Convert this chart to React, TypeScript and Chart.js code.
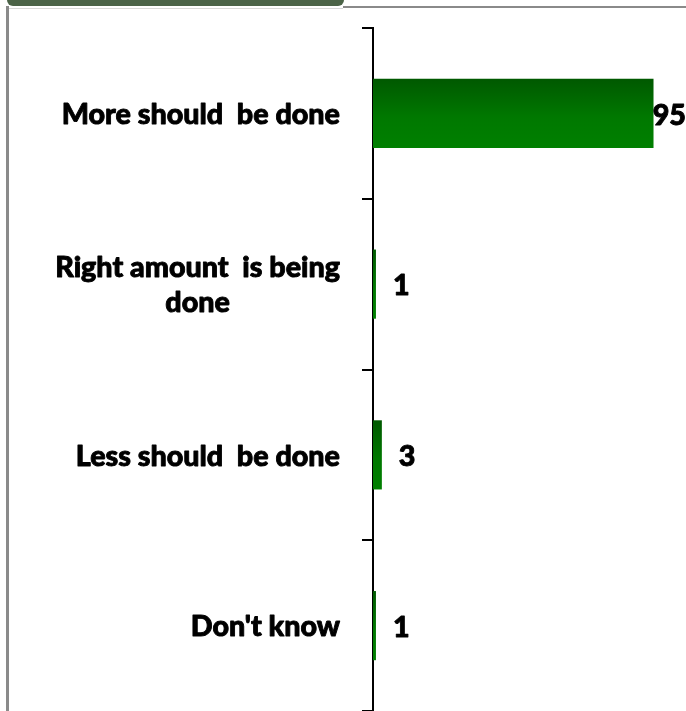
import React, { useEffect, useRef } from "react";
import { Chart, registerables } from "chart.js";

Chart.register(...registerables);

const categories: string[][] = [
  ["More should  be done"],
  ["Right amount  is being", "done"],
  ["Less should  be done"],
  ["Don't know"],
];
const values: number[] = [95, 1, 3, 1];
const xMax = 106;

const LABEL_FONT = "900 28.7px Lato, 'Liberation Sans', sans-serif";
const VALUE_FONT = "900 28.7px Lato, 'Liberation Sans', sans-serif";

const labelPlugin = {
  id: "customLabels",
  afterDraw(chart: any) {
    const ctx = chart.ctx;
    const yScale = chart.scales.y;
    const meta = chart.getDatasetMeta(0);
    ctx.save();
    ctx.fillStyle = "#000";
    ctx.strokeStyle = "#000";
    ctx.lineWidth = 0.9;
    ctx.lineJoin = "round";
    ctx.textBaseline = "middle";
    ctx.font = LABEL_FONT;
    const rightEdge = yScale.right - 33;
    const lineH = 35;
    categories.forEach((lines, i) => {
      const cy = yScale.getPixelForValue(i) + 1.5;
      const widths = lines.map((l) => ctx.measureText(l).width);
      const block = Math.max(...widths);
      const cx = rightEdge - block / 2;
      ctx.textAlign = "center";
      lines.forEach((l, j) => {
        const y = cy + (j - (lines.length - 1) / 2) * lineH;
        ctx.fillText(l, cx, y);
        ctx.strokeText(l, cx, y);
      });
    });
    ctx.font = VALUE_FONT;
    ctx.textAlign = "left";
    meta.data.forEach((bar: any, i: number) => {
      const txt = String(values[i]);
      const w = ctx.measureText(txt).width;
      let x = bar.x + 17;
      if (x + w > chart.width) x = chart.width - w;
      ctx.fillText(txt, x, bar.y + 2);
      ctx.strokeText(txt, x, bar.y + 2);
    });
    ctx.restore();
  },
};

export default function App() {
  const ref = useRef<HTMLCanvasElement | null>(null);
  useEffect(() => {
    document.body.style.margin = "0";
    const canvas = ref.current!;
    const chart = new Chart(canvas, {
      type: "bar",
      data: {
        labels: categories.map((c) => c.join(" ")),
        datasets: [
          {
            data: values,
            barPercentage: 0.405,
            categoryPercentage: 1,
            backgroundColor: (c: any) => {
              const ch = c.chart;
              const ys = ch.scales && ch.scales.y;
              if (!ys || c.dataIndex == null) return "#007000";
              const cy = ys.getPixelForValue(c.dataIndex);
              if (!Number.isFinite(cy)) return "#007000";
              const g = ch.ctx.createLinearGradient(0, cy - 35, 0, cy + 35);
              g.addColorStop(0, "#005800");
              g.addColorStop(0.55, "#007800");
              g.addColorStop(1, "#008000");
              return g;
            },
            borderWidth: 0,
          },
        ],
      },
      options: {
        indexAxis: "y",
        animation: false,
        responsive: false,
        maintainAspectRatio: false,
        layout: { padding: { top: 28, bottom: 0, left: 0, right: 0 } },
        plugins: {
          legend: { display: false },
          tooltip: { enabled: false },
        },
        scales: {
          x: {
            display: false,
            min: 0,
            max: xMax,
          },
          y: {
            afterFit: (s: any) => {
              s.width = 373;
            },
            ticks: { display: false },
            grid: {
              offset: true,
              drawOnChartArea: false,
              drawTicks: true,
              tickLength: 11,
              color: "#000",
              lineWidth: 2,
            },
            border: { display: true, color: "#000", width: 2 },
          },
        },
      },
      plugins: [labelPlugin],
    });
    return () => chart.destroy();
  }, []);

  return (
    <div style={{ position: "relative", width: 686, height: 711, overflow: "hidden", background: "#fff" }}>
      <canvas ref={ref} width={686} height={711} style={{ position: "absolute", left: 0, top: 0 }} />
      <div
        style={{
          position: "absolute",
          left: 7,
          top: -6,
          width: 337,
          height: 12,
          background: "#4b6347",
          borderRadius: 6,
        }}
      />
      <div style={{ position: "absolute", left: 6, top: 6, width: 3, height: 705, background: "#8a8a8a" }} />
      <div style={{ position: "absolute", left: 343, top: 6, width: 343, height: 2, background: "#8a8a8a" }} />
      <div style={{ position: "absolute", left: 9, top: 8, width: 334, height: 1, background: "#d8d8d8" }} />
    </div>
  );
}
